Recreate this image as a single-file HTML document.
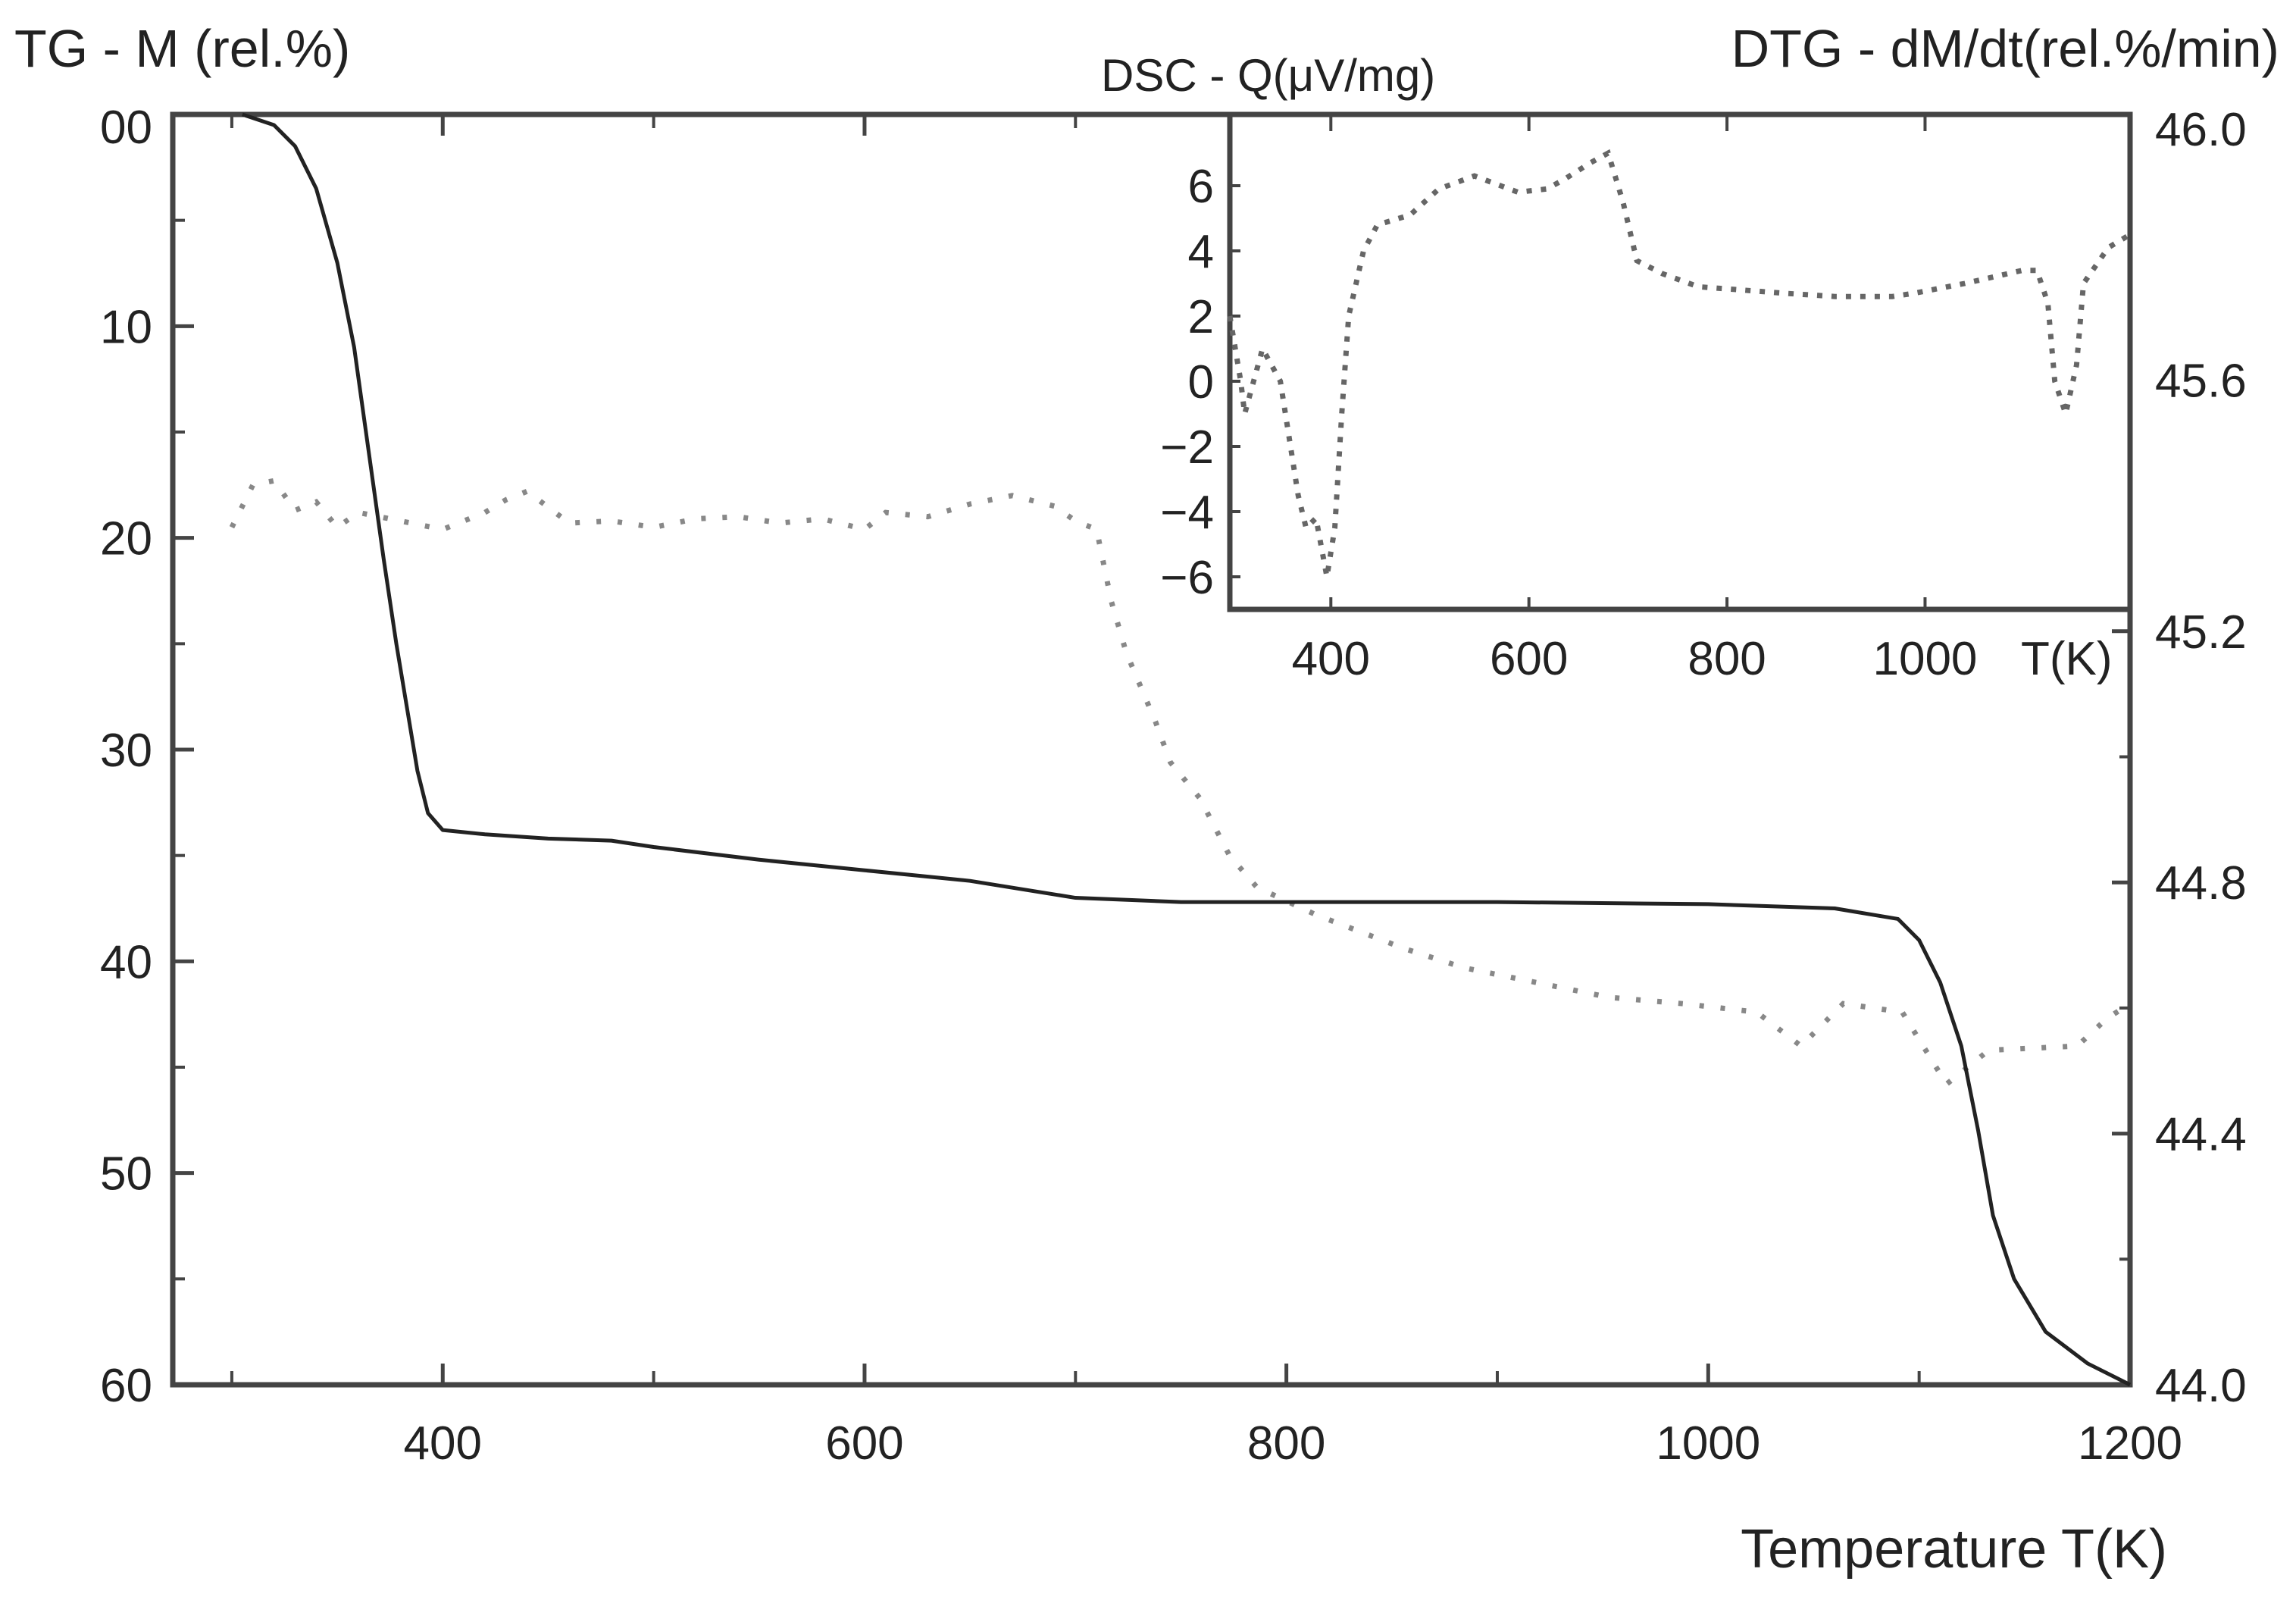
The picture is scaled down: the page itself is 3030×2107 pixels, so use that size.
<!DOCTYPE html>
<html><head><meta charset="utf-8"><style>
html,body{margin:0;padding:0;background:#fff;}
svg{display:block;font-family:"Liberation Sans",Arial,sans-serif;}
</style></head><body>
<svg id="chart" width="3030" height="2107" viewBox="0 0 3030 2107">
<rect width="3030" height="2107" fill="#fff"/>
<g id="main"></g>
<g id="inset"></g>
<text x="19" y="88" font-size="70" fill="#222">TG - M (rel.%)</text>
<text x="3008" y="88" font-size="70" fill="#222" text-anchor="end">DTG - dM/dt(rel.%/min)</text>
<text x="1453" y="120" font-size="60" fill="#222">DSC - Q(μV/mg)</text>
<text x="2860" y="2068" font-size="72" fill="#222" text-anchor="end">Temperature T(K)</text>
<text x="2667" y="890" font-size="62" fill="#222">T(K)</text>
</svg>
<script>
// ---- data ----
const tgT = [305,320,330,340,350,358,365,372,378,383,388,393,400,420,450,480,500,550,600,650,700,750,800,900,1000,1060,1090,1100,1110,1120,1128,1135,1145,1160,1180,1200];
const tgM = [0,0.5,1.5,3.5,7,11,16,21,25,28,31,33,33.8,34,34.2,34.3,34.6,35.2,35.7,36.2,37.0,37.2,37.2,37.2,37.3,37.5,38,39,41,44,48,52,55,57.5,59,60];
const dtgT = [300,310,320,330,340,350,360,380,400,420,430,440,460,480,500,520,540,560,580,600,610,630,650,670,690,700,710,717,724,738,745,759,773,786,814,856,884,953,988,1023,1044,1064,1092,1113,1133,1175,1189,1200];
const dtgM = [19.5,17.5,17.3,18.7,18.3,19.5,18.8,19.2,19.6,18.8,18.2,17.8,19.3,19.2,19.5,19.1,19.0,19.3,19.1,19.6,18.8,19.0,18.4,18.0,18.5,19.2,19.6,23,25.4,28.7,30.6,32.3,35,36.5,37.8,39.4,40.3,41.7,42,42.4,44,42,42.4,45.8,44.2,44,42.7,42];
const dscT = [298,309,313,331,349,367,375,385,396,404,411,418,433,447,480,509,545,589,618,636,662,680,695,709,735,771,815,858,909,967,989,1040,1098,1113,1124,1131,1142,1153,1160,1185,1207];
const dscQ = [2,0,-1,1,0,-3.5,-4.5,-4.2,-6,-4.5,-1,2,4,4.8,5.1,5.9,6.3,5.8,5.9,6.2,6.7,7.0,5.5,3.7,3.3,2.9,2.8,2.7,2.6,2.6,2.7,3.0,3.4,3.4,2.4,0,-1.0,0.5,3,4.1,4.5];
const xTicks = [400,600,800,1000,1200];
const xMinor = [300,500,700,900,1100];
const yTicks = [0,10,20,30,40,50,60];
const yTickLabels = ["00","10","20","30","40","50","60"];
const rTicks = [44.0,44.4,44.8,45.2,45.6,46.0];
const insetXTicks = [400,600,800,1000];
const insetYTicks = [6,4,2,0,-2,-4,-6];

// ---- scales ----
const L=228,R=2811,T=151,B=1827;
const x=t=>L+(t-272)/(1200-272)*(R-L);
const y=m=>T+m/60*(B-T);
const yr=v=>B-(v-44)/2*(B-T-19);
const IL=1623,IT=151,IB=804;
const ix=t=>IL+(t-298)/(1207-298)*(R-IL);
const iy=q=>503-q/2*86;

const NS="http://www.w3.org/2000/svg";
function mk(parent,tag,attrs){const e=document.createElementNS(NS,tag);for(const k in attrs)e.setAttribute(k,attrs[k]);parent.appendChild(e);return e;}
const main=document.getElementById('main'), inset=document.getElementById('inset');

let fr=mk(main,'rect',{x:L,y:T,width:R-L,height:B-T,fill:'none',stroke:'#444','stroke-width':7});


xTicks.forEach(t=>{
  mk(main,'line',{x1:x(t),x2:x(t),y1:B,y2:B-28,stroke:'#444','stroke-width':5});
  mk(main,'line',{x1:x(t),x2:x(t),y1:T,y2:T+28,stroke:'#444','stroke-width':5});
  const tx=mk(main,'text',{x:x(t),y:1925,'font-size':62,fill:'#222','text-anchor':'middle'});tx.textContent=t;
  
  
});
xMinor.forEach(t=>{
  mk(main,'line',{x1:x(t),x2:x(t),y1:B,y2:B-18,stroke:'#444','stroke-width':4});
  mk(main,'line',{x1:x(t),x2:x(t),y1:T,y2:T+18,stroke:'#444','stroke-width':4});
});
yTicks.forEach((m,i)=>{
  mk(main,'line',{x1:L,x2:L+28,y1:y(m),y2:y(m),stroke:'#444','stroke-width':5});
  if(m<60) mk(main,'line',{x1:L,x2:L+16,y1:y(m+5),y2:y(m+5),stroke:'#444','stroke-width':4});
  const tx=mk(main,'text',{x:201,y:y(m)+22+(i===0?16:0),'font-size':62,fill:'#222','text-anchor':'end'});tx.textContent=yTickLabels[i];
  
  
});
rTicks.forEach(v=>{
  mk(main,'line',{x1:R,x2:R-24,y1:yr(v),y2:yr(v),stroke:'#444','stroke-width':5});
  if(v<46) mk(main,'line',{x1:R,x2:R-14,y1:yr(v+0.2),y2:yr(v+0.2),stroke:'#444','stroke-width':4});
  const tx=mk(main,'text',{x:2844,y:yr(v)+22,'font-size':62,fill:'#222'});tx.textContent=v.toFixed(1);
  
  
});
let dtg=mk(main,'polyline',{points:dtgT.map((t,i)=>x(t)+','+y(dtgM[i])).join(' '),fill:'none',stroke:'#888','stroke-width':7,'stroke-dasharray':'6 22'});


let tg=mk(main,'polyline',{points:tgT.map((t,i)=>x(t)+','+y(tgM[i])).join(' '),fill:'none',stroke:'#222','stroke-width':5,'stroke-linejoin':'round'});



let ib=mk(inset,'rect',{x:IL,y:IT,width:R-IL,height:IB-IT,fill:'#fff',stroke:'#444','stroke-width':7});


insetXTicks.forEach(t=>{
  mk(inset,'line',{x1:ix(t),x2:ix(t),y1:IB,y2:IB-16,stroke:'#444','stroke-width':4});
  mk(inset,'line',{x1:ix(t),x2:ix(t),y1:IT,y2:IT+22,stroke:'#444','stroke-width':4});
  const tx=mk(inset,'text',{x:ix(t),y:890,'font-size':62,fill:'#222','text-anchor':'middle'});tx.textContent=t;
  
  
});
insetYTicks.forEach(q=>{
  mk(inset,'line',{x1:IL,x2:IL+14,y1:iy(q),y2:iy(q),stroke:'#444','stroke-width':4});
  const tx=mk(inset,'text',{x:1602,y:iy(q)+22,'font-size':62,fill:'#222','text-anchor':'end'});tx.textContent=q<0?'\u2212'+(-q):q;
  
  
});
let dsc=mk(inset,'polyline',{points:dscT.map((t,i)=>ix(t)+','+iy(dscQ[i])).join(' '),fill:'none',stroke:'#666','stroke-width':7,'stroke-dasharray':'7 12'});


</script>
</body></html>
